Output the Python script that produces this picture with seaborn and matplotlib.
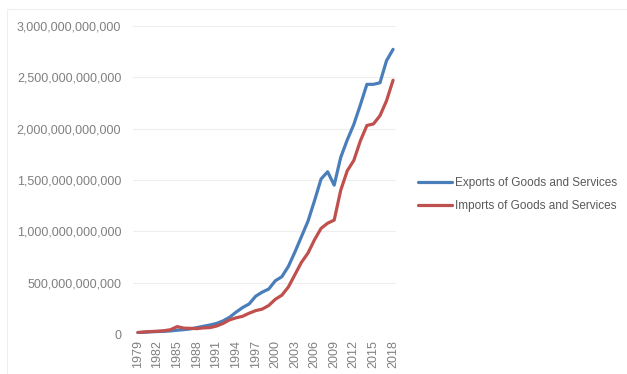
import matplotlib
matplotlib.use("Agg")
import matplotlib.pyplot as plt
from matplotlib.patches import Rectangle
from matplotlib.ticker import FuncFormatter
import seaborn as sns
import pandas as pd

years = list(range(1979, 2019))

exports = [15, 20, 24, 27, 29, 33, 40, 45, 52, 65,
           78, 90, 105, 130, 165, 215, 260, 295, 370, 410,
           440, 520, 560, 660, 800, 950, 1100, 1300, 1510, 1580,
           1450, 1720, 1890, 2040, 2230, 2430, 2430, 2445, 2660, 2770]

imports = [18, 23, 27, 30, 35, 45, 75, 60, 58, 55,
           62, 65, 80, 105, 140, 160, 175, 205, 230, 245,
           280, 340, 380, 460, 580, 700, 790, 920, 1030, 1080,
           1110, 1400, 1590, 1690, 1880, 2030, 2045, 2125, 2270, 2470]

series_names = ["Exports of Goods and Services", "Imports of Goods and Services"]
tick_years = list(range(1979, 2019, 3))
y_ticks = [0, 500e9, 1000e9, 1500e9, 2000e9, 2500e9, 3000e9]

df = pd.DataFrame({
    "Year": years * 2,
    "Value": [v * 1e9 for v in exports] + [v * 1e9 for v in imports],
    "Series": [series_names[0]] * len(years) + [series_names[1]] * len(years),
})

sns.set_style("white")
plt.rcParams["font.family"] = ["Liberation Sans", "DejaVu Sans"]

fig = plt.figure(figsize=(6.27, 3.74), dpi=100)
ax = fig.add_axes([133 / 627, 1 - 334.3 / 374, (396 - 133) / 627, (334.3 - 25.7) / 374])

palette = {series_names[0]: "#4a7ebb", series_names[1]: "#c0504d"}
sns.lineplot(data=df, x="Year", y="Value", hue="Series", palette=palette,
             linewidth=2.3, ax=ax, legend=True)

ax.set_ylim(0, 3000e9)
ax.set_xlim(1979 - 0.75, 2018 + 0.45)
ax.set_yticks(y_ticks)
ax.yaxis.set_major_formatter(FuncFormatter(lambda v, p: f"{int(round(v)):,}"))
ax.set_xticks(tick_years)
ax.set_xticklabels([str(y) for y in tick_years], rotation=90)
ax.tick_params(axis="both", length=0, labelsize=9, labelcolor="#808080")
ax.tick_params(axis="y", pad=8.5)
ax.tick_params(axis="x", pad=4)
ax.set_xlabel("")
ax.set_ylabel("")
ax.grid(axis="y", color="#eeeeee", linewidth=0.8)
ax.set_axisbelow(True)
for s in ax.spines.values():
    s.set_visible(False)

handles, labels = ax.get_legend_handles_labels()
ax.legend(handles, labels, loc="center left", bbox_to_anchor=(418 / 627, 1 - 194.5 / 374),
          bbox_transform=fig.transFigure, frameon=False, fontsize=8.5,
          labelcolor="#595959", handlelength=2.9, handletextpad=0.2,
          labelspacing=0.95, borderpad=0, borderaxespad=0)

# faint chart-area border
fig.patches.append(Rectangle((7 / 627, -0.1), 1.2, 1 - 9 / 374 + 0.1,
                             transform=fig.transFigure, fill=False,
                             edgecolor="#efefef", linewidth=0.8))

fig.savefig("out.png", dpi=100, facecolor="white")
